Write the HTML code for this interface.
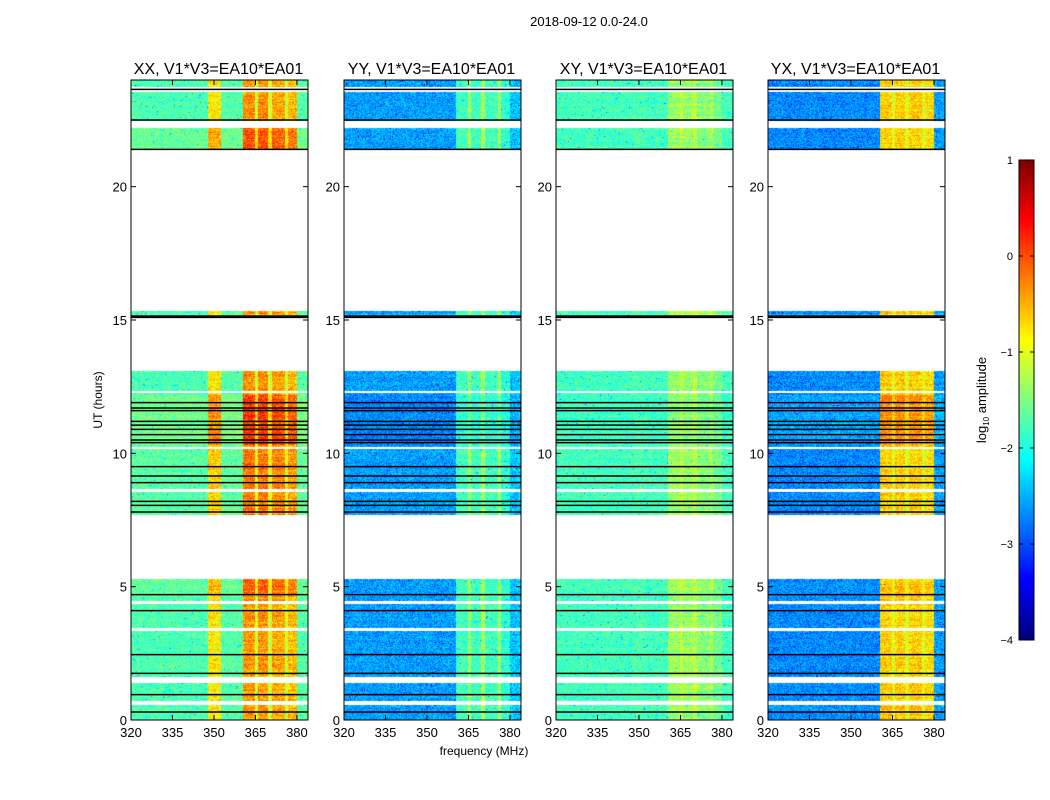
<!DOCTYPE html>
<html><head><meta charset="utf-8"><style>
body{margin:0;background:#fff;}
#wrap{position:relative;width:1050px;height:800px;overflow:hidden;background:#fff;font-family:"Liberation Sans",sans-serif;}
canvas{position:absolute;left:0;top:0;}
svg{position:absolute;left:0;top:0;}
</style></head><body>
<div id="wrap">
<canvas id="cv" width="1050" height="800"></canvas>
<svg id="sv" width="1050" height="800"></svg>
</div>
<script>
// ---- data ----
const panelTitles = ["XX, V1*V3=EA10*EA01","YY, V1*V3=EA10*EA01","XY, V1*V3=EA10*EA01","YX, V1*V3=EA10*EA01"];
const xTicks = [320,335,350,365,380];
const yTicks = [0,5,10,15,20];
const cbTicks = [1,0,-1,-2,-3,-4];
const dataBands = [[0,5.3],[7.7,13.1],[15.2,15.35],[21.4,24]];
const whiteGaps = [[0.55,0.7],[1.4,1.6],[3.35,3.45],[4.35,4.45],[8.55,8.65],[10.15,10.25],[12.25,12.35],[22.2,22.45],[23.55,23.72]];
const blackLines = [0.3,0.95,1.75,2.45,4.1,4.7,7.8,8.05,8.2,8.9,9.15,9.5,10.4,10.5,10.7,10.9,11.06,11.2,11.6,11.7,11.9,15.1,15.15,21.4,22.5,23.65];
const freqEdges = [320,348,352.5,360.5,365,366,369.5,371,375.6,376.7,380,384];
const levelsXX = [-1.75,-0.8,-1.7,-0.35,-1.1,-0.35,-1.1,-0.45,-1.1,-0.55,-1.7];
const levelsYY = [-2.6,-2.6,-2.6,-1.8,-1.3,-1.8,-1.3,-1.8,-1.3,-1.9,-2.4];
const levelsXY = [-1.8,-1.75,-1.8,-1.35,-1.15,-1.35,-1.15,-1.45,-1.25,-1.55,-1.8];
const levelsYX = [-2.7,-2.7,-2.7,-0.65,-1.0,-0.65,-1.0,-0.65,-1.0,-0.75,-2.6];
const gainBlocks = [[10.3,12.2],[4.6,5.3],[21.4,22.2],[7.7,10.3]];
const gainXX = [0.45,0.25,0.35,0.15];
const gainYY = [-0.3,0,0,0];
const gainXY = [-0.1,0,0,0];
const gainYX = [0.3,0.1,0,0];

const panelX = [131,344,556,768], PW=177, PT=80, PB=720;
const levels=[levelsXX,levelsYY,levelsXY,levelsYX];
const gains=[gainXX,gainYY,gainXY,gainYX];
const fx=f=>(f-320)/64*PW;
const hy=h=>PB-(h/24)*(PB-PT);
function jet(t){t=Math.max(0,Math.min(1,t));const c=v=>Math.round(255*Math.max(0,Math.min(1,v)));
 return [c(1.5-Math.abs(4*t-3)),c(1.5-Math.abs(4*t-2)),c(1.5-Math.abs(4*t-1))];}
function hash(a,b){let h=(a*374761393+b*668265263)|0;h=(h^(h>>>13))*1274126177|0;return ((h^(h>>>16))>>>0)/4294967295;}
const ctx=document.getElementById('cv').getContext('2d');
const img=ctx.createImageData(1050,800);
function put(x,y,rgb){const i=(y*1050+x)*4;img.data[i]=rgb[0];img.data[i+1]=rgb[1];img.data[i+2]=rgb[2];img.data[i+3]=255;}
for(let p=0;p<4;p++){
 for(let y=PT;y<PB;y++){
  const h=(PB-y-0.5)/(PB-PT)*24;
  if(!dataBands.some(b=>h>=b[0]&&h<b[1]))continue;
  if(whiteGaps.some(b=>h>=b[0]&&h<b[1]))continue;
  let g=0;gainBlocks.forEach((b,i)=>{if(h>=b[0]&&h<b[1])g+=gains[p][i];});
  const rn=(hash(y,p*7+1)-0.5)*0.3;
  for(let x=0;x<PW;x++){
   const f=320+(x+0.5)/PW*64;
   let s=0;while(s<freqEdges.length-2&&f>=freqEdges[s+1])s++;
   const lv=levels[p][s];
   const hot=lv>-1.5;
   let v=lv+g*(hot?1:0.4)+rn*(hot?1:0.4)+(hash(x+p*300,y)-0.5)*0.7;
   if(hash(y*3+p,x*5)>0.985)v-=0.8;
   put(panelX[p]+x,y,jet((v+4)/5));
  }
 }
}
for(let y=160;y<640;y++){const rgb=jet((639-y)/479);for(let x=1019;x<1034;x++)put(x,y,rgb);}
for(let y=0;y<800;y++)for(let x=0;x<1050;x++){const i=(y*1050+x)*4;if(img.data[i+3]===0){img.data[i]=img.data[i+1]=img.data[i+2]=img.data[i+3]=255;}}
ctx.putImageData(img,0,0);

const NS='http://www.w3.org/2000/svg', sv=document.getElementById('sv');
function el(tag,attrs,txt){const e=document.createElementNS(NS,tag);for(const k in attrs)e.setAttribute(k,attrs[k]);if(txt!==undefined)e.textContent=txt;sv.appendChild(e);return e;}
let t=el('text',{x:589,y:26,'font-size':13,'text-anchor':'middle'},'2018-09-12 0.0-24.0');


for(let p=0;p<4;p++){
 const X=panelX[p];
 blackLines.forEach(h=>{const l=el('line',{x1:X,x2:X+PW,y1:hy(h),y2:hy(h),stroke:'#000','stroke-width':1.5});
  
  });
 const r=el('rect',{x:X,y:PT,width:PW,height:PB-PT,fill:'none',stroke:'#000','stroke-width':1});
 
 
 const tt=el('text',{x:X+PW/2-1,y:74,'font-size':16,'text-anchor':'middle'},panelTitles[p]);
 
 
 xTicks.forEach(v=>{const x=X+fx(v);
  el('line',{x1:x,x2:x,y1:PB,y2:PB-5,stroke:'#000'});el('line',{x1:x,x2:x,y1:PT,y2:PT+5,stroke:'#000'});
  const l=el('text',{x:x,y:737,'font-size':13,'text-anchor':'middle'},v);
  
  });
 yTicks.forEach(v=>{const y=hy(v);
  el('line',{x1:X,x2:X+5,y1:y,y2:y,stroke:'#000'});el('line',{x1:X+PW,x2:X+PW-5,y1:y,y2:y,stroke:'#000'});
  const l=el('text',{x:X-4,y:y+5,'font-size':13,'text-anchor':'end'},v);
  
  });
}
t=el('text',{x:484,y:755,'font-size':12,'text-anchor':'middle'},'frequency (MHz)');


t=el('text',{x:0,y:0,'font-size':12,'text-anchor':'middle',transform:'translate(102,400) rotate(-90)'},'UT (hours)');


const cb=el('rect',{x:1019,y:160,width:15,height:480,fill:'none',stroke:'#000'});


cbTicks.forEach(v=>{const y=160+(1-v)/5*480;
 el('line',{x1:1019,x2:1023,y1:y,y2:y,stroke:'#000'});el('line',{x1:1030,x2:1034,y1:y,y2:y,stroke:'#000'});
 const l=el('text',{x:1013,y:y+4,'font-size':11,'text-anchor':'end'},v<0?'\u2212'+(-v):String(v));
 
 });
t=el('text',{x:0,y:0,'font-size':13,'text-anchor':'middle',transform:'translate(986,400) rotate(-90)'});
t.innerHTML='log<tspan font-size="8" dy="3">10</tspan><tspan dy="-3"> amplitude</tspan>';


</script>
</body></html>
